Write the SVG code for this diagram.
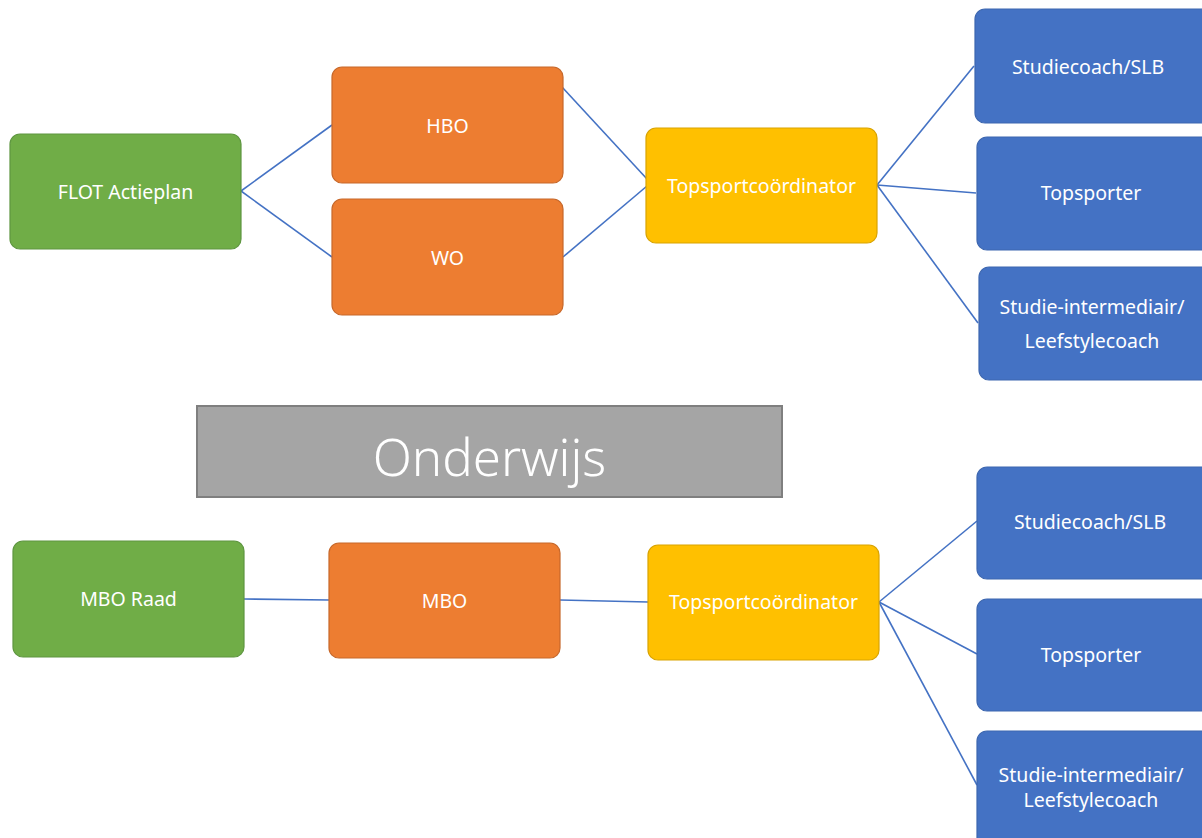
<svg xmlns="http://www.w3.org/2000/svg" width="1202" height="838" viewBox="0 0 1202 838">
<style>
.n{stroke-width:1.2}
.g{fill:#70AD47;stroke:#5E9640}
.o{fill:#ED7D31;stroke:#C7682A}
.y{fill:#FFC000;stroke:#D9A300}
.b{fill:#4472C4;stroke:#3D67B0}
.t{font-family:"Noto Sans","Open Sans","DejaVu Sans",sans-serif;font-size:19.5px;fill:#fff;text-anchor:middle;dominant-baseline:central}
.c line{stroke:#4472C4;stroke-width:1.6}
</style>
<rect width="1202" height="838" fill="#fff"/>
<g class="c" id="connectors">
<line x1="241" y1="191" x2="332" y2="125"/>
<line x1="241" y1="191" x2="332" y2="257"/>
<line x1="562" y1="87" x2="647" y2="179"/>
<line x1="563" y1="257" x2="647" y2="186"/>
<line x1="877" y1="185" x2="974" y2="66"/>
<line x1="877" y1="185" x2="976" y2="193"/>
<line x1="877" y1="185" x2="978" y2="323"/>
<line x1="244" y1="599" x2="329" y2="600"/>
<line x1="560" y1="600" x2="648" y2="602"/>
<line x1="879" y1="602" x2="977" y2="521"/>
<line x1="879" y1="602" x2="977" y2="654"/>
<line x1="879" y1="602" x2="977" y2="785"/>
</g>
<g id="flot"><rect class="n g" x="10" y="134" width="231" height="115" rx="10"/><text class="t" x="125.5" y="191">FLOT Actieplan</text></g>
<g id="hbo"><rect class="n o" x="332" y="67" width="231" height="116" rx="10"/><text class="t" x="447.5" y="125">HBO</text></g>
<g id="wo"><rect class="n o" x="332" y="199" width="231" height="116" rx="10"/><text class="t" x="447.5" y="257">WO</text></g>
<g id="tc1"><rect class="n y" x="646" y="128" width="231" height="115" rx="10"/><text class="t" x="761.5" y="185">Topsportcoördinator</text></g>
<g id="sc1"><rect class="n b" x="975" y="9" width="235" height="114" rx="10"/><text class="t" x="1088" y="66">Studiecoach/SLB</text></g>
<g id="ts1"><rect class="n b" x="977" y="137" width="235" height="113" rx="10"/><text class="t" x="1091" y="192">Topsporter</text></g>
<g id="si1"><rect class="n b" x="979" y="267" width="235" height="113" rx="10"/><text class="t" x="1092" y="306">Studie-intermediair/</text><text class="t" x="1092" y="340">Leefstylecoach</text></g>
<g id="onderwijs"><rect x="197" y="406" width="585" height="91" fill="#A5A5A5" stroke="#7F7F7F" stroke-width="2"/><text x="489.5" y="456" font-family="'Noto Sans','Open Sans',sans-serif" font-weight="300" font-size="51" fill="#fff" text-anchor="middle" dominant-baseline="central">Onderwijs</text></g>
<g id="mboraad"><rect class="n g" x="13" y="541" width="231" height="116" rx="10"/><text class="t" x="128.5" y="598">MBO Raad</text></g>
<g id="mbo"><rect class="n o" x="329" y="543" width="231" height="115" rx="10"/><text class="t" x="444.5" y="600">MBO</text></g>
<g id="tc2"><rect class="n y" x="648" y="545" width="231" height="115" rx="10"/><text class="t" x="763.5" y="601">Topsportcoördinator</text></g>
<g id="sc2"><rect class="n b" x="977" y="467" width="235" height="112" rx="10"/><text class="t" x="1090" y="521">Studiecoach/SLB</text></g>
<g id="ts2"><rect class="n b" x="977" y="599" width="235" height="112" rx="10"/><text class="t" x="1091" y="654">Topsporter</text></g>
<g id="si2"><rect class="n b" x="977" y="731" width="235" height="120" rx="10"/><text class="t" x="1091" y="774">Studie-intermediair/</text><text class="t" x="1091" y="799">Leefstylecoach</text></g>
</svg>
